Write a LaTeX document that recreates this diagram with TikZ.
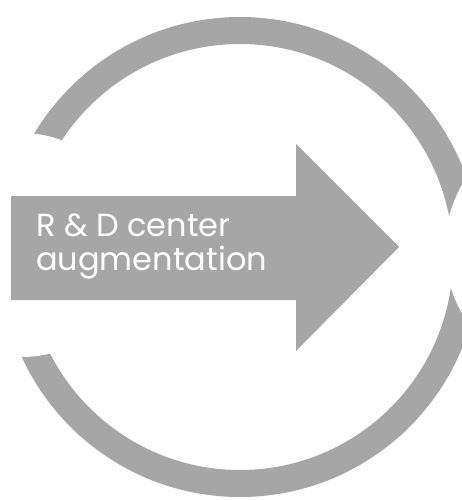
\documentclass[tikz,border=0pt]{standalone}
\usepackage{fontspec}
\setmainfont{Poppins}
\definecolor{gris}{HTML}{A6A6A6}

\begin{document}
\begin{tikzpicture}[x=1pt, y=-1pt, every node/.style={font=\fontsize{32}{34}\selectfont, align=left},
  anillo/.style={fill=gris, even odd rule},
  corte/.style={fill=white},
  flecha/.style={fill=gris}]
\useasboundingbox (0,0) rectangle (461,500);
% ring, opened on both sides
\fill[anillo] (240,257) circle (240pt) (240,257) circle (213pt);
\fill[corte] (22,245) circle (112pt);
\fill[corte] (575,249) circle (130pt);
% arrow
\fill[flecha] (11,196) -- (296,196) -- (296,144) -- (399,247) -- (296,351) -- (296,300) -- (11,300) -- cycle;
\node[text=white, inner sep=0pt, anchor=base west] (rd) at (36,270) {R \& D center\\augmentation};
\end{tikzpicture}
\end{document}
